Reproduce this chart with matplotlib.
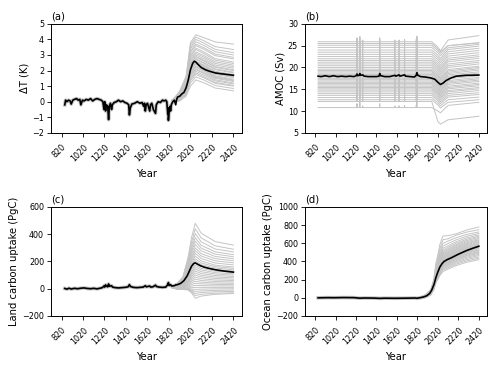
import matplotlib.pyplot as plt

# ---- (a) temperature anomaly -------------------------------------------
a_mean_years = [850, 858, 870, 885, 900, 910, 925, 940, 960, 975, 990, 1000, 1015, 1030, 1050,
                1070, 1090, 1110, 1130, 1150, 1170, 1190, 1205, 1215, 1222, 1230, 1238, 1250,
                1258, 1265, 1275, 1286, 1293, 1310, 1330, 1350, 1370, 1390, 1410, 1430, 1445,
                1452, 1460, 1475, 1500, 1525, 1550, 1570, 1585, 1593, 1600, 1608, 1620, 1641,
                1648, 1660, 1675, 1695, 1702, 1720, 1740, 1760, 1775, 1790, 1800, 1809, 1813,
                1815, 1822, 1830, 1835, 1842, 1855, 1870, 1883, 1890, 1900, 1920, 1940, 1960,
                1980, 2000, 2020, 2040, 2055, 2070, 2090, 2120, 2160, 2200, 2250, 2300, 2360, 2420]
a_mean = [-0.2, 0.1, 0.0, 0.1, 0.05, -0.15, 0.1, 0.15, 0.2, 0.1, 0.15, -0.2, 0.1, 0.05, 0.15,
          0.1, 0.2, 0.05, 0.15, 0.2, 0.15, 0.1, 0.0, -0.5, 0.0, -0.6, -0.2, -0.3,
          -1.15, -0.3, -0.1, -0.5, -0.2, -0.05, 0.0, 0.1, 0.0, 0.05, -0.05, -0.1, -0.2,
          -0.85, -0.4, -0.15, -0.1, 0.0, -0.1, -0.05, -0.3, -0.1, -0.6, -0.2, -0.1, -0.6,
          -0.2, -0.1, -0.5, -0.75, -0.2, 0.0, -0.05, 0.1, 0.05, 0.1, 0.0, -0.8, -0.4,
          -1.2, -0.5, -0.3, -0.6, -0.2, 0.0, 0.1, -0.2, 0.1, 0.3, 0.35, 0.5, 0.6,
          0.9, 1.4, 2.05, 2.45, 2.6, 2.55, 2.4, 2.2, 2.05, 1.95, 1.85, 1.8, 1.75, 1.7]

a_member_years = [1850, 1920, 1980, 2020, 2070, 2150, 2250, 2420]
a_1850 = [-0.1, 0.0, -0.05, 0.05, 0.0, -0.1, 0.05, 0.1, 0.0, -0.05, 0.05, 0.0, 0.1, -0.05, 0.0,
          0.05, 0.1, 0.0, 0.05, -0.05, 0.1, 0.0, 0.05, 0.1, 0.0, 0.05, 0.1, 0.05, 0.1, 0.0]
a_1920 = [0.05, 0.1, 0.1, 0.15, 0.15, 0.2, 0.2, 0.2, 0.25, 0.25, 0.25, 0.3, 0.3, 0.3, 0.3,
          0.35, 0.35, 0.35, 0.4, 0.4, 0.4, 0.45, 0.45, 0.5, 0.5, 0.55, 0.55, 0.6, 0.65, 0.7]
a_1980 = [0.35, 0.45, 0.5, 0.55, 0.6, 0.65, 0.7, 0.7, 0.75, 0.8, 0.8, 0.85, 0.9, 0.9, 0.95,
          1.0, 1.0, 1.05, 1.1, 1.1, 1.15, 1.2, 1.25, 1.3, 1.35, 1.4, 1.45, 1.5, 1.55, 1.65]
a_2020 = [1.0, 1.2, 1.35, 1.45, 1.55, 1.65, 1.7, 1.8, 1.85, 1.9, 2.0, 2.05, 2.1, 2.15, 2.2,
          2.3, 2.35, 2.45, 2.5, 2.6, 2.7, 2.8, 2.9, 3.0, 3.15, 3.25, 3.4, 3.5, 3.65, 3.8]
a_2070 = [1.4, 1.6, 1.75, 1.85, 1.95, 2.05, 2.1, 2.2, 2.25, 2.3, 2.4, 2.45, 2.5, 2.55, 2.6,
          2.7, 2.75, 2.85, 2.9, 3.0, 3.1, 3.2, 3.35, 3.45, 3.6, 3.7, 3.85, 4.0, 4.15, 4.3]
a_2150 = [1.2, 1.38, 1.52, 1.6, 1.7, 1.8, 1.86, 1.95, 2.0, 2.05, 2.15, 2.2, 2.25, 2.3, 2.35,
          2.45, 2.5, 2.6, 2.65, 2.75, 2.85, 2.95, 3.08, 3.18, 3.35, 3.45, 3.6, 3.75, 3.9, 4.1]
a_2250 = [0.88, 1.04, 1.18, 1.24, 1.34, 1.41, 1.5, 1.56, 1.61, 1.66, 1.76, 1.81, 1.86, 1.91, 1.96,
          2.06, 2.11, 2.21, 2.26, 2.36, 2.46, 2.56, 2.67, 2.77, 2.96, 3.06, 3.21, 3.36, 3.54, 3.84]
a_2420 = [0.7, 0.85, 1.0, 1.05, 1.15, 1.2, 1.3, 1.35, 1.4, 1.45, 1.55, 1.6, 1.65, 1.7, 1.75,
          1.85, 1.9, 2.0, 2.05, 2.15, 2.25, 2.35, 2.45, 2.55, 2.75, 2.85, 3.0, 3.15, 3.35, 3.7]

# ---- (b) AMOC -----------------------------------------------------------
b_mean_years = [850, 880, 920, 960, 1000, 1040, 1080, 1120, 1160, 1200, 1222, 1230, 1238, 1250,
                1258, 1266, 1286, 1300, 1340, 1380, 1420, 1445, 1452, 1462, 1500, 1550, 1600,
                1610, 1641, 1650, 1695, 1705, 1750, 1790, 1809, 1815, 1825, 1850, 1900, 1950,
                1990, 2020, 2045, 2070, 2100, 2150, 2200, 2300, 2420]
b_mean = [18.0, 17.9, 18.1, 17.9, 18.1, 17.9, 18.0, 17.9, 18.0, 17.9, 18.1, 18.5, 18.1, 18.2,
          18.6, 18.2, 18.3, 18.0, 17.9, 17.9, 17.9, 18.0, 18.6, 18.1, 17.9, 17.9, 18.2,
          18.0, 18.3, 18.0, 18.3, 18.0, 17.9, 17.8, 18.2, 18.8, 18.2, 17.9, 17.8, 17.6,
          17.3, 16.6, 16.1, 16.4, 17.0, 17.6, 18.0, 18.2, 18.25]

b_spike_years = [1230, 1258, 1286, 1452, 1600, 1641, 1695, 1809, 1815]
b_spike = [0.9, 1.2, 0.4, 0.9, 0.4, 0.4, 0.5, 0.6, 1.3]
b_base = [10.8, 12.2, 12.6, 13.1, 13.6, 14.0, 14.4, 14.8, 15.1, 15.4, 15.7, 16.0, 16.3, 16.6,
          16.9, 17.2, 17.5, 17.8, 18.1, 18.4, 18.7, 19.0, 19.3, 19.6, 20.0, 20.4, 20.8, 21.2,
          21.6, 22.0, 22.5, 23.0, 23.5, 24.0, 24.6, 25.1, 25.5, 25.9]
b_2020 = [10.0, 7.6, 11.4, 11.9, 12.4, 12.8, 13.2, 13.6, 13.9, 14.2, 14.5, 14.8, 15.1, 15.4,
          15.7, 16.0, 16.3, 16.6, 16.9, 17.2, 17.5, 17.8, 18.1, 18.4, 18.8, 19.2, 19.6, 20.0,
          20.4, 20.8, 21.3, 21.8, 22.3, 22.8, 23.4, 23.9, 24.3, 24.7]
b_2045 = [9.6, 7.0, 10.7, 11.2, 11.7, 12.1, 12.5, 12.9, 13.2, 13.5, 13.8, 14.1, 14.4, 14.7,
          15.0, 15.3, 15.6, 15.9, 16.2, 16.5, 16.8, 17.1, 17.4, 17.7, 18.1, 18.5, 18.9, 19.3,
          19.7, 20.1, 20.6, 21.1, 21.6, 22.1, 22.7, 23.2, 23.6, 23.8]
b_2120 = [11.3, 8.0, 12.0, 12.6, 13.2, 13.6, 14.0, 14.4, 14.7, 15.1, 15.4, 15.7, 16.1, 16.4,
          16.7, 17.0, 17.4, 17.7, 18.0, 18.3, 18.6, 18.9, 19.2, 19.5, 20.0, 20.4, 20.8, 21.3,
          21.7, 22.1, 22.6, 23.1, 23.6, 24.1, 24.5, 25.0, 25.0, 26.3]
b_2420 = [12.0, 8.8, 12.6, 13.2, 13.8, 14.2, 14.7, 15.1, 15.4, 15.8, 16.1, 16.4, 16.8, 17.1,
          17.4, 17.7, 18.1, 18.4, 18.7, 19.0, 19.4, 19.7, 20.0, 20.3, 20.8, 21.2, 21.6, 22.1,
          22.5, 22.9, 23.4, 23.9, 24.4, 24.9, 25.3, 25.7, 25.6, 27.3]

# ---- (c) land carbon uptake ---------------------------------------------
c_mean_years = [850, 870, 890, 910, 940, 970, 1000, 1030, 1060, 1090, 1120, 1150, 1180, 1200,
                1215, 1222, 1230, 1240, 1250, 1258, 1266, 1286, 1295, 1320, 1350, 1380, 1410,
                1440, 1452, 1462, 1490, 1520, 1550, 1580, 1600, 1610, 1641, 1650, 1670, 1695,
                1705, 1730, 1760, 1790, 1809, 1815, 1822, 1835, 1845, 1870, 1883, 1900, 1930,
                1960, 1990, 2010, 2030, 2050, 2065, 2080, 2110, 2150, 2200, 2260, 2330, 2420]
c_mean = [2, -3, 4, -2, 3, 0, 4, 6, 2, 0, 3, -1, 4, 8,
          20, 12, 28, 18, 14, 35, 18, 22, 12, 8, 6, 8, 10,
          14, 30, 16, 10, 8, 10, 12, 22, 14, 20, 12, 14, 26,
          16, 12, 10, 12, 30, 45, 24, 30, 20, 22, 28, 30, 40,
          60, 95, 130, 165, 185, 190, 183, 170, 158, 148, 138, 130, 122]

c_member_years = [1850, 1900, 1950, 2000, 2030, 2065, 2120, 2250, 2420]
c_1850 = [5, 6, 7, 8, 9, 10, 10, 11, 12, 12, 13, 14, 14, 15, 15,
          16, 16, 17, 18, 18, 19, 20, 20, 21, 22, 22, 23, 24, 24, 25]
c_1900 = [-5, -3, -1, 0, 2, 4, 5, 7, 8, 10, 11, 13, 14, 15, 17,
          18, 20, 21, 22, 24, 25, 27, 28, 30, 32, 34, 36, 38, 40, 43]
c_1950 = [-5, -3, 0, 2, 4, 6, 9, 12, 14, 17, 20, 23, 26, 28, 31,
          34, 37, 40, 43, 46, 49, 52, 56, 60, 64, 68, 72, 77, 82, 88]
c_2000 = [-10, -6, -3, 0, 3, 8, 14, 20, 27, 34, 41, 49, 56, 63, 71,
          78, 86, 93, 101, 108, 118, 128, 138, 148, 160, 173, 185, 200, 218, 238]
c_2030 = [-30, -22, -16, -10, -3, 7, 19, 31, 43, 55, 66, 78, 90, 101, 113,
          125, 136, 148, 160, 172, 187, 203, 218, 234, 253, 273, 292, 316, 343, 375]
c_2065 = [-70, -50, -35, -20, -5, 10, 25, 40, 55, 70, 85, 100, 115, 130, 145,
          160, 175, 190, 205, 220, 240, 260, 280, 300, 325, 350, 375, 405, 440, 480]
c_2120 = [-54, -41, -28, -16, -3, 10, 23, 36, 48, 61, 74, 87, 99, 112, 125,
          138, 150, 163, 176, 189, 204, 222, 240, 257, 278, 298, 319, 344, 373, 408]
c_2250 = [-41, -33, -22, -12, -1, 10, 21, 32, 42, 53, 64, 75, 86, 97, 108,
          118, 129, 140, 151, 162, 173, 189, 205, 221, 237, 254, 271, 292, 315, 346]
c_2420 = [-35, -30, -20, -10, 0, 10, 20, 30, 40, 50, 60, 70, 80, 90, 100,
          110, 120, 130, 140, 150, 160, 175, 190, 205, 220, 235, 250, 270, 290, 320]

# ---- (d) ocean carbon uptake --------------------------------------------
d_mean_years = [850, 900, 950, 1000, 1100, 1200, 1258, 1300, 1400, 1452, 1500, 1600, 1700, 1800,
                1815, 1850, 1880, 1910, 1940, 1960, 1983, 2000, 2020, 2040, 2060, 2080, 2110,
                2150, 2220, 2300, 2360, 2420]
d_mean = [0, 1, 2, 1, 3, 2, -4, -2, -3, -6, -4, -5, -4, -2,
          -5, 2, 10, 22, 48, 85, 150, 220, 285, 340, 375, 400, 420,
          440, 480, 520, 545, 568]

d_member_years = [1850, 1900, 1950, 1980, 2000, 2020, 2040, 2070, 2120, 2200, 2300, 2420]
d_1850 = [-10, -9, -8, -7, -6, -5, -4, -3, -2, -1, 0, 0, 1, 1, 2,
          2, 3, 3, 4, 4, 5, 5, 6, 6, 7, 7, 8, 8, 9, 10]
d_1900 = [0, 2, 3, 5, 6, 7, 8, 9, 10, 11, 12, 13, 14, 15, 16,
          17, 18, 19, 20, 21, 22, 23, 24, 25, 26, 28, 29, 31, 33, 36]
d_1950 = [30, 32, 34, 36, 38, 40, 42, 43, 45, 46, 48, 49, 51, 52, 54,
          55, 57, 58, 60, 61, 63, 65, 67, 69, 71, 74, 77, 80, 85, 90]
d_1980 = [87, 92, 95, 99, 102, 105, 107, 110, 112, 115, 117, 119, 122, 124, 127,
          129, 131, 134, 137, 139, 142, 146, 149, 153, 158, 164, 171, 180, 192, 204]
d_2000 = [160, 168, 175, 182, 187, 193, 197, 201, 206, 210, 215, 219, 223, 228, 232,
          237, 241, 245, 250, 255, 261, 267, 273, 281, 289, 300, 314, 330, 352, 374]
d_2020 = [203, 214, 223, 231, 238, 245, 251, 256, 262, 267, 273, 279, 284, 290, 295,
          301, 307, 312, 319, 325, 332, 340, 348, 357, 368, 382, 399, 420, 448, 476]
d_2040 = [245, 258, 270, 280, 288, 297, 304, 311, 318, 325, 331, 338, 345, 352, 358,
          365, 372, 379, 387, 394, 403, 412, 422, 433, 446, 463, 485, 510, 545, 590]
d_2070 = [290, 305, 318, 330, 340, 350, 358, 366, 374, 382, 390, 398, 406, 414, 422,
          430, 438, 446, 455, 464, 474, 485, 497, 510, 525, 545, 570, 600, 640, 680]
d_2120 = [316, 331, 344, 357, 368, 378, 386, 395, 403, 412, 420, 428, 436, 444, 452,
          460, 468, 477, 486, 495, 505, 516, 528, 541, 556, 574, 598, 625, 650, 685]
d_2200 = [355, 370, 384, 397, 409, 420, 429, 438, 447, 456, 465, 474, 482, 490, 498,
          506, 514, 523, 532, 542, 552, 562, 574, 587, 601, 618, 639, 662, 690, 705]
d_2300 = [391, 406, 420, 434, 447, 459, 468, 478, 487, 497, 506, 516, 524, 532, 540,
          548, 556, 565, 575, 585, 595, 605, 617, 630, 643, 659, 677, 697, 723, 746]
d_2420 = [420, 435, 450, 465, 478, 490, 500, 510, 520, 530, 540, 550, 558, 566, 574,
          582, 590, 600, 610, 620, 630, 640, 652, 665, 678, 692, 708, 725, 750, 780]

xticks = [820, 1020, 1220, 1420, 1620, 1820, 2020, 2220, 2420]
grey = '#c4c4c4'

fig = plt.figure(figsize=(5, 3.67), dpi=100)
ax_a = fig.add_axes([0.102, 0.638, 0.382, 0.297])
ax_b = fig.add_axes([0.61, 0.638, 0.364, 0.297])
ax_c = fig.add_axes([0.102, 0.139, 0.382, 0.297])
ax_d = fig.add_axes([0.61, 0.139, 0.364, 0.297])


def draw_members(ax, years, columns):
    for member in zip(*columns):
        ax.plot(years, member, color=grey, lw=0.7, zorder=1)


def halo(ax, years, values):
    # spread of the ensemble before 1850 hugs the mean
    hist = [(y, v) for y, v in zip(years, values) if y <= 1860]
    ax.plot([h[0] for h in hist], [h[1] for h in hist], color=grey, lw=2.6, zorder=1)


# (a)
halo(ax_a, a_mean_years, a_mean)
draw_members(ax_a, a_member_years, [a_1850, a_1920, a_1980, a_2020, a_2070, a_2150, a_2250, a_2420])
ax_a.plot(a_mean_years, a_mean, color='black', lw=1.2, zorder=3)

# (b)
for i in range(len(b_base)):
    yrs = [850]
    vals = [b_base[i]]
    for sy, sv in zip(b_spike_years, b_spike):
        yrs += [sy - 2, sy, sy + 2]
        vals += [b_base[i], b_base[i] + sv, b_base[i]]
    yrs += [1960, 2020, 2045, 2120, 2420]
    vals += [b_base[i], b_2020[i], b_2045[i], b_2120[i], b_2420[i]]
    ax_b.plot(yrs, vals, color=grey, lw=0.7, zorder=1)
ax_b.plot(b_mean_years, b_mean, color='black', lw=1.2, zorder=3)

# (c)
halo(ax_c, c_mean_years, c_mean)
draw_members(ax_c, c_member_years, [c_1850, c_1900, c_1950, c_2000, c_2030, c_2065, c_2120, c_2250, c_2420])
ax_c.plot(c_mean_years, c_mean, color='black', lw=1.2, zorder=3)

# (d)
halo(ax_d, d_mean_years, d_mean)
draw_members(ax_d, d_member_years, [d_1850, d_1900, d_1950, d_1980, d_2000, d_2020, d_2040,
                                    d_2070, d_2120, d_2200, d_2300, d_2420])
ax_d.plot(d_mean_years, d_mean, color='black', lw=1.2, zorder=3)

panels = [(ax_a, '(a)', 'ΔT (K)', (-2, 5), range(-2, 6)),
          (ax_b, '(b)', 'AMOC (Sv)', (5, 30), range(5, 31, 5)),
          (ax_c, '(c)', 'Land carbon uptake (PgC)', (-200, 600), range(-200, 601, 200)),
          (ax_d, '(d)', 'Ocean carbon uptake (PgC)', (-200, 1000), range(-200, 1001, 200))]
for ax, tag, ylab, ylim, yt in panels:
    ax.set_xlim(722, 2500)
    ax.set_ylim(*ylim)
    ax.set_yticks(list(yt))
    ax.set_xticks(xticks)
    ax.set_xticklabels([str(t) for t in xticks], rotation=45, ha='right', rotation_mode='anchor')
    ax.tick_params(labelsize=5.8, length=3, width=0.6, pad=2)
    ax.tick_params(axis='x', pad=4)
    ax.set_xlabel('Year', fontsize=7.2, labelpad=4)
    ax.set_ylabel(ylab, fontsize=7.2, labelpad=2)
    ax.set_title(tag, loc='left', fontsize=7.2, pad=3)
    for s in ax.spines.values():
        s.set_linewidth(0.7)

fig.savefig('out.png', dpi=100)
